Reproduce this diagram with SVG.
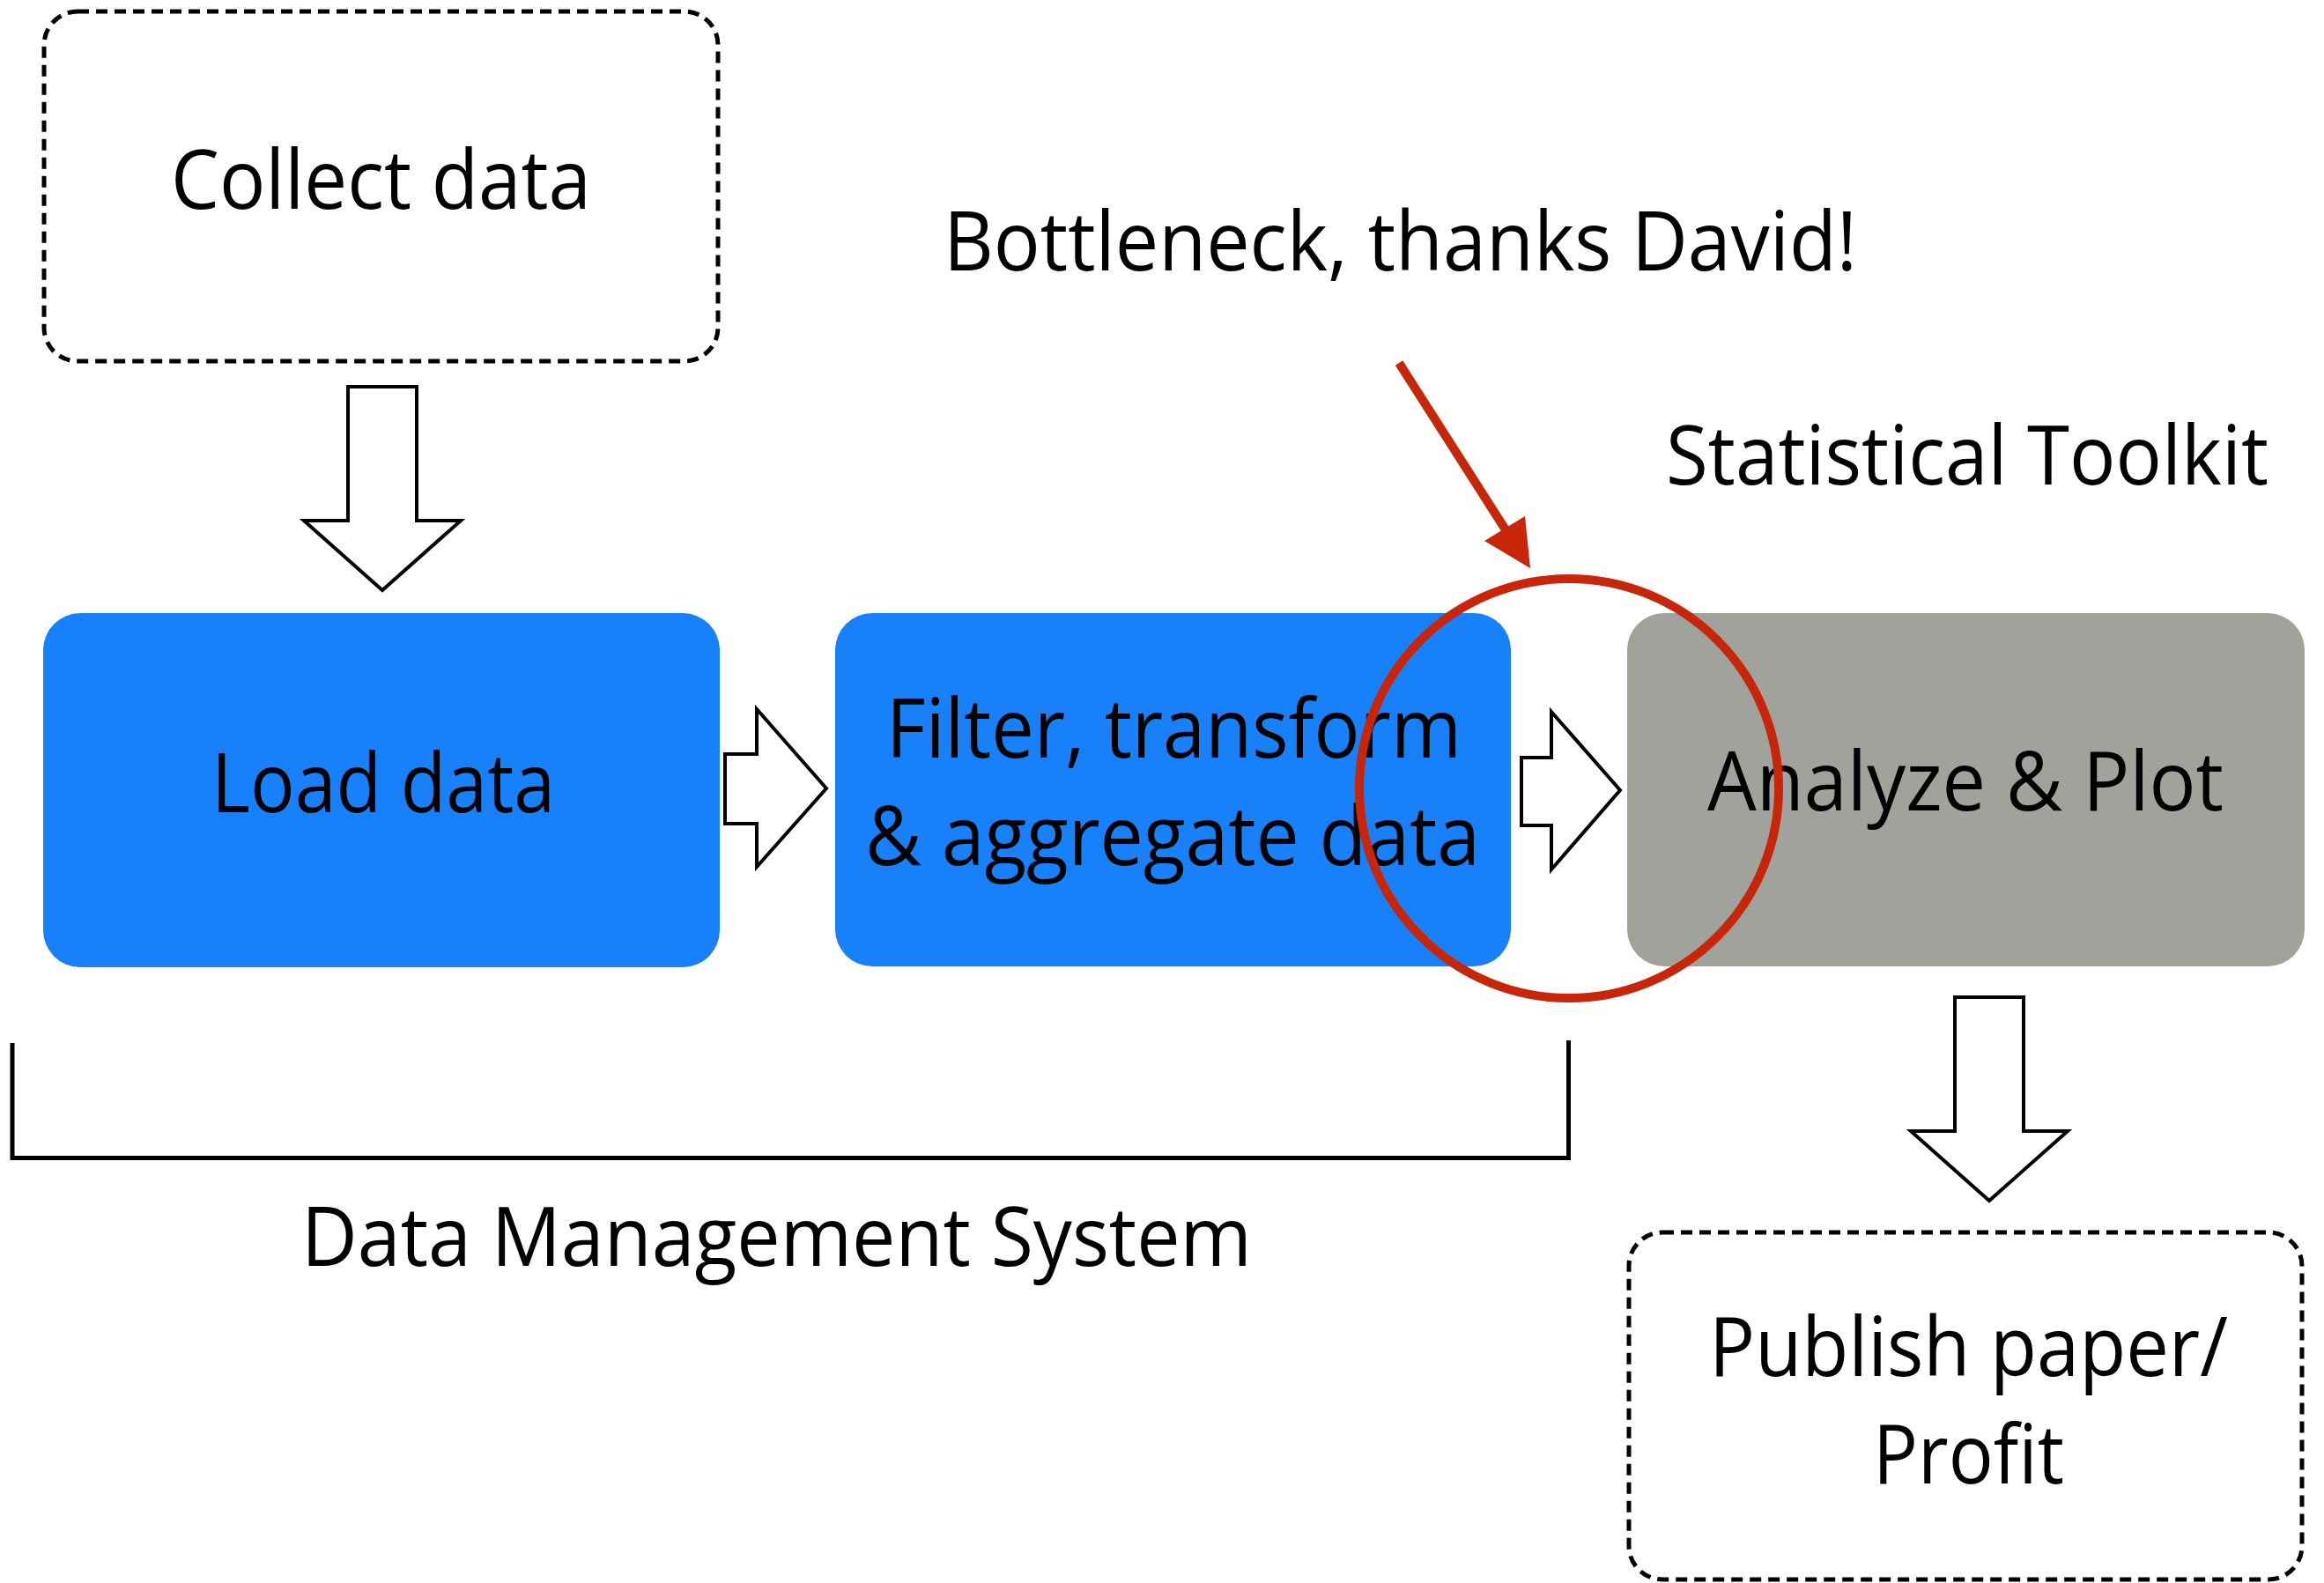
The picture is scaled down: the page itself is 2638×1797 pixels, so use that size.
<svg xmlns="http://www.w3.org/2000/svg" width="2638" height="1797" viewBox="0 0 2638 1797">
<style>
text{font-family:"Open Sans","Liberation Sans",sans-serif;font-size:94px;fill:#000;text-anchor:middle}
.dash{fill:none;stroke:#000;stroke-width:5;stroke-dasharray:13 8}
.blue{fill:#1881fa}
.gray{fill:#9fa39c}
.blk{fill:#fff;stroke:#000;stroke-width:4;stroke-linejoin:miter}
.red{fill:none;stroke:#c8260a;stroke-width:10}
</style>
<rect width="2638" height="1797" fill="#fff"/>
<g id="collect">
<rect class="dash" x="50" y="13" width="765" height="397" rx="38"/>
<text x="432.5" y="237" textLength="477" lengthAdjust="spacingAndGlyphs">Collect data</text>
</g>
<g id="load">
<rect class="blue" x="49" y="696" width="768" height="402" rx="42"/>
<text x="435" y="922" textLength="390" lengthAdjust="spacingAndGlyphs">Load data</text>
</g>
<g id="filter">
<rect class="blue" x="948" y="696" width="767" height="401" rx="42"/>
<text x="1332.5" y="860" textLength="653" lengthAdjust="spacingAndGlyphs">Filter, transform</text>
<text x="1331" y="982" textLength="698" lengthAdjust="spacingAndGlyphs">&amp; aggregate data</text>
</g>
<g id="analyze">
<rect class="gray" x="1847" y="696" width="769" height="401" rx="42"/>
<text x="2231" y="920" textLength="586" lengthAdjust="spacingAndGlyphs">Analyze &amp; Plot</text>
</g>
<g id="publish">
<rect class="dash" x="1849" y="1399" width="764" height="394" rx="38"/>
<text x="2234.5" y="1562" textLength="589" lengthAdjust="spacingAndGlyphs">Publish paper/</text>
<text x="2234.5" y="1684" textLength="217" lengthAdjust="spacingAndGlyphs">Profit</text>
</g>
<g id="labels">
<text x="1589.5" y="307" textLength="1037" lengthAdjust="spacingAndGlyphs">Bottleneck, thanks David!</text>
<text x="2233" y="550" textLength="684" lengthAdjust="spacingAndGlyphs">Statistical Toolkit</text>
<text x="881.5" y="1437" textLength="1079" lengthAdjust="spacingAndGlyphs">Data Management System</text>
</g>
<g id="connectors">
<polygon class="blk" points="395,439 473,439 473,591 523,591 434,670 345,591 395,591"/>
<polygon class="blk" points="823,856 859,856 859,805 938,895 859,984 859,935 823,935"/>
<polygon class="blk" points="1727,860 1761,860 1761,808 1839,897 1761,987 1761,937 1727,937"/>
<polygon class="blk" points="2219,1132 2297,1132 2297,1284 2347,1284 2258,1363 2169,1284 2219,1284"/>
<path d="M14,1184 V1314.5 H1780.5 V1181" fill="none" stroke="#000" stroke-width="5"/>
</g>
<g id="bottleneck">
<circle class="red" cx="1781" cy="895" r="238"/>
<line x1="1588" y1="412" x2="1710" y2="603" stroke="#c8260a" stroke-width="10"/>
<polygon points="1737,645 1685,614 1731,586" fill="#c8260a"/>
</g>
</svg>
